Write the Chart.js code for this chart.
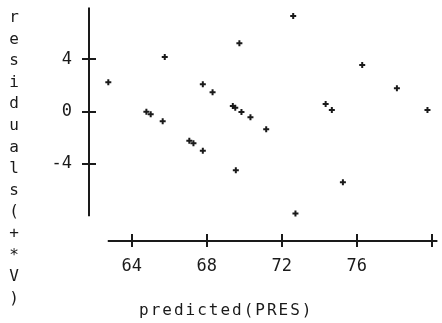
<!DOCTYPE html>
<html>
<head>
<meta charset="utf-8">
<script src="https://cdn.jsdelivr.net/npm/chart.js@4"></script>
<style>
  html, body { margin: 0; padding: 0; background: #fff; }
  #wrap { width: 442px; height: 323px; }
</style>
</head>
<body>
<div id="wrap"><canvas id="residChart" width="442" height="323"></canvas></div>
<script>
// values
const predicted = [62.75, 65.76, 64.78, 65.01, 65.65, 67.07, 67.29, 67.79, 67.79, 68.31,
  69.74, 69.39, 69.52, 69.85, 70.33, 69.55, 71.17, 72.61, 72.73, 76.29,
  74.34, 74.67, 75.26, 78.14, 79.77];
const residuals = [2.23, 4.16, -0.02, -0.21, -0.75, -2.23, -2.43, -2.99, 2.08, 1.47,
  5.21, 0.42, 0.29, -0.04, -0.44, -4.49, -1.36, 7.30, -7.78, 3.55,
  0.57, 0.11, -5.41, 1.77, 0.11];

const xTicks = [64, 68, 72, 76, 80];      // tick marks
const xLabels = [64, 68, 72, 76];         // labelled ticks (80 falls off the edge)
const yTicks = [-4, 0, 4];
const xTitle = 'predicted(PRES)';
const yTitle = 'residuals(+*V)';

// axis line extents in data units (axes are detached)
const xLine = [62.72, 80.3];
const yLine = [-8, 7.95];

const FONT = 'DejaVu Sans Mono';
const INK = '#1a1a1a';

const points = predicted.map((p, i) => ({ x: p, y: residuals[i] }));

// draws the detached axis lines, crossing tick marks and the titles
const detachedAxes = {
  id: 'detachedAxes',
  afterDraw(chart) {
    const { ctx, scales: { x, y } } = chart;
    const yAxisX = chart.chartArea.left;
    const xAxisY = chart.chartArea.bottom;
    ctx.save();
    ctx.strokeStyle = INK;
    ctx.lineWidth = 2;
    ctx.beginPath();
    ctx.moveTo(yAxisX, y.getPixelForValue(yLine[1]));
    ctx.lineTo(yAxisX, y.getPixelForValue(yLine[0]));
    ctx.moveTo(x.getPixelForValue(xLine[0]), xAxisY);
    ctx.lineTo(x.getPixelForValue(xLine[1]), xAxisY);
    yTicks.forEach(v => {
      const py = Math.round(y.getPixelForValue(v));
      ctx.moveTo(yAxisX - 7, py);
      ctx.lineTo(yAxisX + 7, py);
    });
    xTicks.forEach(v => {
      const px = Math.round(x.getPixelForValue(v));
      ctx.moveTo(px, xAxisY - 7);
      ctx.lineTo(px, xAxisY + 6);
    });
    ctx.stroke();

    ctx.fillStyle = INK;
    ctx.font = '16px "' + FONT + '"';
    ctx.textBaseline = 'alphabetic';
    ctx.textAlign = 'left';
    ctx.letterSpacing = '2px';
    ctx.fillText(xTitle, 139, 315);
    ctx.letterSpacing = '0px';

    ctx.textAlign = 'center';
    [...yTitle].forEach((ch, i) => {
      ctx.fillText(ch, 14, 22 + i * 21.6);
    });
    ctx.restore();
  }
};

new Chart(document.getElementById('residChart'), {
  type: 'scatter',
  data: {
    datasets: [{
      label: 'residuals',
      data: points,
      pointStyle: 'cross',
      pointRadius: 3,
      borderWidth: 2,
      borderColor: INK,
      backgroundColor: INK
    }]
  },
  plugins: [detachedAxes],
  options: {
    responsive: false,
    animation: false,
    layout: { padding: { top: 8, right: 0, bottom: 0, left: 0 } },
    plugins: {
      legend: { display: false },
      tooltip: { enabled: false }
    },
    scales: {
      x: {
        type: 'linear',
        min: 61.72,
        max: 80.225,
        afterBuildTicks: s => { s.ticks = xLabels.map(v => ({ value: v })); },
        afterFit: s => { s.height = 82; s.paddingLeft = 0; s.paddingRight = 0; },
        grid: { display: false, drawTicks: false },
        border: { display: false },
        ticks: {
          padding: 15,
          maxRotation: 0,
          color: INK,
          font: { family: FONT, size: 17 }
        }
      },
      y: {
        type: 'linear',
        min: -9.89,
        max: 7.91,
        afterBuildTicks: s => { s.ticks = yTicks.map(v => ({ value: v })); },
        afterFit: s => { s.width = 89; s.paddingTop = 0; s.paddingBottom = 0; },
        grid: { display: false, drawTicks: false },
        border: { display: false },
        ticks: {
          padding: 17,
          color: INK,
          font: { family: FONT, size: 17 }
        }
      }
    }
  }
});
</script>
</body>
</html>
